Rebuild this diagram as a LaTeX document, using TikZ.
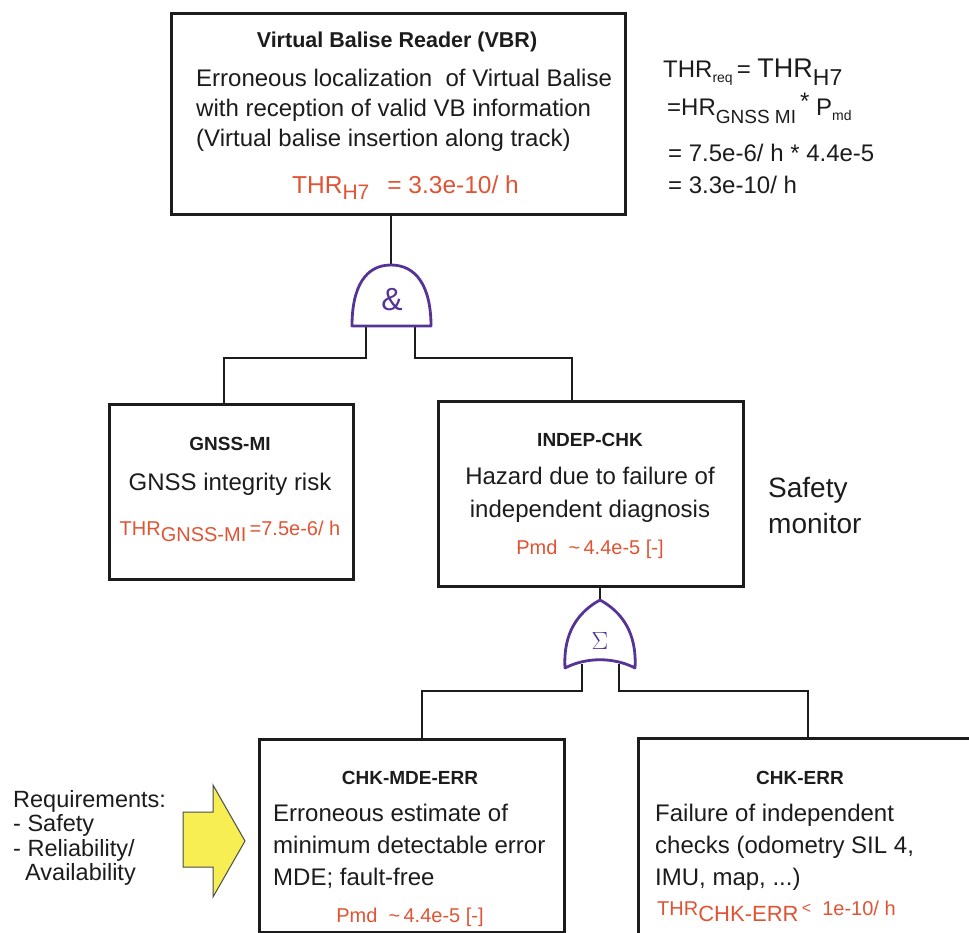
\documentclass[tikz,border=0pt]{standalone}
\usepackage{fontspec}
\setmainfont{Liberation Sans}
\usetikzlibrary{calc}
\definecolor{hazred}{RGB}{224,84,52}
\definecolor{gatepurple}{RGB}{86,52,150}
\definecolor{arrowyellow}{RGB}{246,238,82}
\definecolor{ink}{RGB}{28,28,28}
% font size shortcut and lowered subscript: \dn{drop}{size}{text}
\newcommand\fs[1]{\fontsize{#1}{#1}\selectfont}
\newcommand\dn[3]{\raisebox{-#1pt}{\fs{#2}#3}}
\tikzset{
  box/.style={draw=ink, line width=3pt, rectangle, anchor=north west, inner sep=0pt},
  wire/.style={draw=ink, line width=2.8pt},
  gate/.style={draw=gatepurple, line width=2.8pt, fill=white, line join=round},
  txt/.style={inner sep=0pt, anchor=base, text=ink},
  lt/.style={txt, anchor=base west},
  red/.style={text=hazred},
  body/.style={font=\fs{24}},
  head/.style={font=\bfseries\fs{19}},
  redsz/.style={red, font=\fs{20}},
}
\begin{document}
\begin{tikzpicture}[x=1pt, y=-1pt]
\useasboundingbox (0,0) rectangle (969,933);
\clip (0,0) rectangle (969,933);

% ---------- event boxes ----------
\node[box, minimum width=454, minimum height=201] (vbr)    at (170,12)  {};
\node[box, minimum width=244, minimum height=175] (gnss)   at (108,403) {};
\node[box, minimum width=305, minimum height=185] (indep)  at (437,400) {};
\node[box, minimum width=305, minimum height=193] (chkmde) at (258,738) {};
\node[box, minimum width=360, minimum height=240] (chkerr) at (637,737) {};

% ---------- gate anchor points ----------
\coordinate (and-top) at (391,265);
\coordinate (and-l)   at (366,326);
\coordinate (and-r)   at (415,326);
\coordinate (or-top)  at (600,600);
\coordinate (or-l)    at (582,664);
\coordinate (or-r)    at (619,664);
\coordinate (gnss-in)   at (224,403);
\coordinate (indep-in)  at (572,400);
\coordinate (chkmde-in) at (422,738);
\coordinate (chkerr-in) at (808,737);

% ---------- connectors ----------
\draw[wire] (vbr.south -| and-top) -- (and-top);
\draw[wire] (and-l) -- ++(0,32) -| (gnss-in);
\draw[wire] (and-r) -- ++(0,32) -| (indep-in);
\draw[wire] (indep.south -| or-top) -- (or-top);
\draw[wire] (or-l) -- ++(0,27) -| (chkmde-in);
\draw[wire] (or-r) -- ++(0,27) -| (chkerr-in);

% ---------- AND gate ----------
\draw[gate] (352,326) .. controls (352,286) and (366,265) .. (and-top)
            .. controls (416,265) and (431,286) .. (431,326) -- cycle;
\node[txt, text=gatepurple, font=\fs{32}] (and-sym) at (392,311) {\&};

% ---------- OR gate ----------
\draw[gate] (565,668) .. controls (563,633) and (578,612) .. (or-top)
            .. controls (622,612) and (637,633) .. (635,668)
            .. controls (614,657) and (586,657) .. cycle;
\node[txt, text=gatepurple, font=\fs{32}] (or-sym) at (600,649) {$\Sigma$};

% ---------- VBR texts ----------
\node[txt, font=\bfseries\fs{21.5}] (vbr-t) at (397,48) {Virtual Balise Reader (VBR)};
\node[lt, body] (vbr-1) at (196,87)  {Erroneous localization\ \ of Virtual Balise};
\node[lt, body] (vbr-2) at (196,117) {with reception of valid VB information};
\node[lt, body] (vbr-3) at (196,147) {(Virtual balise insertion along track)};
\node[lt, red, font=\fs{24.5}] (vbr-r) at (292,194) {THR\dn{6}{21}{H7}\hspace{18pt}= 3.3e-10/ h};

% ---------- requirement calculation ----------
\node[lt, font=\fs{24}] (req-1) at (663,78)  {THR\dn{5}{14}{req}\,= {\fs{27}THR}\dn{8}{23}{H7}};
\node[lt, font=\fs{24}] (req-2) at (667,116) {=HR\dn{8}{19}{GNSS MI}\,\raisebox{6pt}{*}\ P\dn{5}{14}{md}};
\node[lt, font=\fs{24}] (req-3) at (668,162) {= 7.5e-6/ h * 4.4e-5};
\node[lt, font=\fs{24}] (req-4) at (668,194) {= 3.3e-10/ h};

% ---------- GNSS-MI ----------
\node[txt, head] (gnss-t) at (230,450) {GNSS-MI};
\node[txt, body] (gnss-1) at (230,490) {GNSS integrity risk};
\node[txt, redsz] (gnss-r) at (230,535) {THR\dn{6}{20}{GNSS-MI}\,=7.5e-6/ h};

% ---------- INDEP-CHK ----------
\node[txt, head] (indep-t) at (590,446) {INDEP-CHK};
\node[txt, body] (indep-1) at (590,484) {Hazard due to failure of};
\node[txt, body] (indep-2) at (590,517) {independent diagnosis};
\node[txt, redsz] (indep-r) at (590,554) {Pmd\ \ \textasciitilde\,4.4e-5 [-]};

\node[lt, font=\fs{28}] (mon-1) at (768,497) {Safety};
\node[lt, font=\fs{28}] (mon-2) at (768,533) {monitor};

% ---------- CHK-MDE-ERR ----------
\node[txt, head] (mde-t) at (410,784) {CHK-MDE-ERR};
\node[lt, body] (mde-1) at (273,821) {Erroneous estimate of};
\node[lt, body] (mde-2) at (273,853) {minimum detectable error};
\node[lt, body] (mde-3) at (273,885) {MDE; fault-free};
\node[txt, redsz] (mde-r) at (410,922) {Pmd\ \ \textasciitilde\,4.4e-5 [-]};

% ---------- CHK-ERR ----------
\node[txt, head] (err-t) at (800,784) {CHK-ERR};
\node[lt, body] (err-1) at (655,821) {Failure of independent};
\node[lt, body] (err-2) at (655,853) {checks (odometry SIL 4,};
\node[lt, body] (err-3) at (655,885) {IMU, map, ...)};
\node[lt, redsz] (err-r) at (657,915) {THR\dn{6}{22}{CHK-ERR}\,\raisebox{2pt}{\fs{16}<}\ \ 1e-10/ h};

% ---------- requirements ----------
\node[lt, font=\fs{23.5}] (rq-1) at (13,807) {Requirements:};
\node[lt, font=\fs{23.5}] (rq-2) at (13,831) {- Safety};
\node[lt, font=\fs{23.5}] (rq-3) at (13,856) {- Reliability/};
\node[lt, font=\fs{23.5}] (rq-4) at (25,880) {Availability};
\draw[fill=arrowyellow, draw=ink!80, line width=1pt, line join=miter]
  (183,812) -- (213,812) -- (213,785) -- (245,841) -- (213,897) -- (213,867) -- (183,867) -- cycle;
\end{tikzpicture}
\end{document}
